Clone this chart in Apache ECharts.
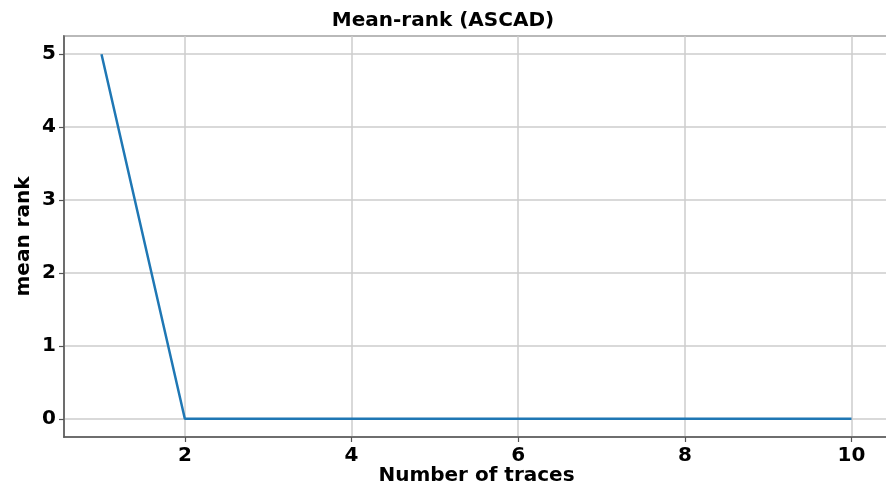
<!DOCTYPE html>
<html>
<head>
<meta charset="utf-8">
<script src="https://cdn.jsdelivr.net/npm/echarts@6/dist/echarts.min.js"></script>
<style>html,body{margin:0;padding:0;background:#fff}#c{width:886px;height:492px}</style>
</head>
<body>
<div id="c"></div>
<script>
var traces = [1, 2, 3, 4, 5, 6, 7, 8, 9, 10];
var meanRank = [5, 0, 0, 0, 0, 0, 0, 0, 0, 0];
var titleText = 'Mean-rank (ASCAD)';
var xName = 'Number of traces';
var yName = 'mean rank';

var chart = echarts.init(document.getElementById('c'), null, {renderer: 'canvas'});
var font = 'DejaVu Sans';
function intOnly(v) { return Math.abs(v - Math.round(v)) < 1e-6 ? String(Math.round(v)) : ''; }
chart.setOption({
  animation: false,
  backgroundColor: '#fff',
  title: {
    text: titleText, left: 'center', top: 6,
    textStyle: {fontFamily: font, fontSize: 20, fontWeight: 'bold', color: '#000'}
  },
  grid: {left: 64, right: -3, top: 36, bottom: 55, outerBoundsMode: 'none', containLabel: false, show: true, borderColor: '#555', borderWidth: 1.5, backgroundColor: 'transparent'},
  xAxis: {
    type: 'value', min: 0.55, max: 10.45, splitNumber: 5,
    name: xName, nameLocation: 'middle', nameGap: 29, nameMoveOverlap: false,
    nameTextStyle: {fontFamily: font, fontSize: 20, fontWeight: 'bold', color: '#000'},
    axisLine: {show: true, onZero: false, lineStyle: {color: '#555', width: 1.5}},
    axisTick: {show: true, length: 5, lineStyle: {color: '#555', width: 1.2}},
    axisLabel: {margin: 9, fontFamily: font, fontSize: 20, fontWeight: 'bold', color: '#000', formatter: intOnly, showMinLabel: false, showMaxLabel: false},
    splitLine: {show: true, lineStyle: {color: '#cccccc', width: 1.5}}
  },
  yAxis: {
    type: 'value', min: -0.25, max: 5.25, splitNumber: 5,
    name: yName, nameLocation: 'middle', nameGap: 30, nameRotate: 90, nameMoveOverlap: false,
    nameTextStyle: {fontFamily: font, fontSize: 20, fontWeight: 'bold', color: '#000'},
    axisLine: {show: true, onZero: false, lineStyle: {color: '#555', width: 1.5}},
    axisTick: {show: true, length: 5, lineStyle: {color: '#555', width: 1.2}},
    axisLabel: {margin: 8, fontFamily: font, fontSize: 20, fontWeight: 'bold', color: '#000', formatter: intOnly, showMinLabel: false, showMaxLabel: false},
    splitLine: {show: true, lineStyle: {color: '#cccccc', width: 1.5}}
  },
  series: [{
    type: 'line',
    data: traces.map(function (t, i) { return [t, meanRank[i]]; }),
    showSymbol: false, symbol: 'none',
    lineStyle: {color: '#1f77b4', width: 2.5},
    z: 5
  }]
});
</script>
</body>
</html>
